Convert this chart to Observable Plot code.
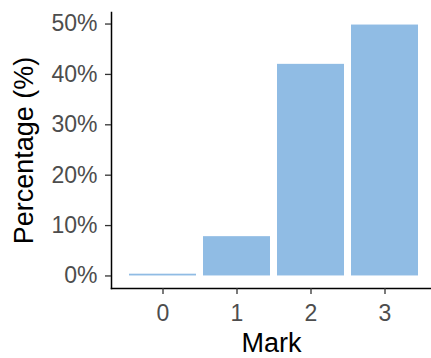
<!DOCTYPE html>
<html>
<head>
<meta charset="utf-8">
<script src="https://cdn.jsdelivr.net/npm/d3@7"></script>
<script src="https://cdn.jsdelivr.net/npm/@observablehq/plot@0.6"></script>
<style>
  html, body { margin: 0; padding: 0; background: #fff; }
  #chart svg { font-family: "Liberation Sans", Arial, sans-serif; }
  #chart [aria-label="x-axis tick label"], #chart [aria-label="y-axis tick label"] { font-size: 23px; fill: #4d4d4d; }
  #chart [aria-label="x-axis label"], #chart [aria-label="y-axis label"] { font-size: 27px; fill: #000; }
</style>
</head>
<body>
<div id="chart"></div>
<script>
const marks = ["0", "1", "2", "3"];
const percentages = [0.35, 7.8, 42, 49.8];
const yTicks = [0, 10, 20, 30, 40, 50];

const data = marks.map((m, i) => ({mark: m, pct: percentages[i]}));
const yMax = d3.max(percentages);
const pad = yMax * 0.05;

const chart = Plot.plot({
  width: 431,
  height: 358,
  marginLeft: 111,
  marginRight: 0,
  marginTop: 12,
  marginBottom: 70,
  style: {background: "#fff", overflow: "visible"},
  x: {domain: marks, range: [125, 422], paddingInner: 0.1, paddingOuter: 0.05},
  y: {domain: [-pad, yMax + pad]},
  marks: [
    Plot.barY(data, {x: "mark", y1: 0, y2: "pct", fill: "#90bce4"}),
    Plot.frame({anchor: "left", stroke: "#000", strokeWidth: 1.5}),
    Plot.frame({anchor: "bottom", stroke: "#000", strokeWidth: 1.5}),
    Plot.axisY({ticks: yTicks, tickFormat: d => d + "%", tickSize: 6, tickPadding: 8, stroke: "#333", strokeWidth: 1.3,
      label: "Percentage (%)", labelArrow: "none", labelAnchor: "center", labelOffset: 98}),
    Plot.axisX({tickSize: 6, tickPadding: 10, stroke: "#333", strokeWidth: 1.3,
      label: "Mark", labelArrow: "none", labelAnchor: "center", labelOffset: 63})
  ]
});
document.getElementById("chart").appendChild(chart);
</script>
</body>
</html>
